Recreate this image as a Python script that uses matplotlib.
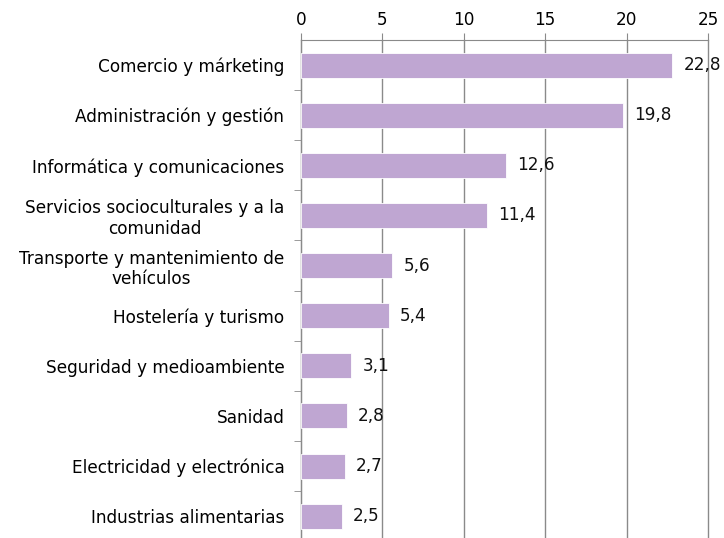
import matplotlib

matplotlib.use("Agg")
import matplotlib.pyplot as plt

plt.rcParams["font.family"] = ["DejaVu Sans"]

categorias = [
    "Comercio y márketing",
    "Administración y gestión",
    "Informática y comunicaciones",
    "Servicios socioculturales y a la\ncomunidad",
    "Transporte y mantenimiento de\nvehículos",
    "Hostelería y turismo",
    "Seguridad y medioambiente",
    "Sanidad",
    "Electricidad y electrónica",
    "Industrias alimentarias",
]
valores = [22.8, 19.8, 12.6, 11.4, 5.6, 5.4, 3.1, 2.8, 2.7, 2.5]
ticks_x = [0, 5, 10, 15, 20, 25]

BAR = "#bfa6d2"
GRID = "#8a8a8a"
FS = 12.2

fig = plt.figure(figsize=(7.24, 5.38), dpi=100)
ax = fig.add_axes([0.4157, -0.006, 0.978 - 0.4157, 0.9257 + 0.006])

pos = list(range(len(categorias)))
ax.barh(pos, valores, height=0.5, color=BAR, edgecolor="white", lw=0.6, zorder=3)
for y, v in zip(pos, valores):
    ax.annotate(f"{v:.1f}".replace(".", ","), (v, y), xytext=(8, 0),
                textcoords="offset points", ha="left", va="center",
                fontsize=FS, color="#111", zorder=4)

ax.set_xlim(0, 25)
ax.set_ylim(len(categorias) - 0.5, -0.5)
ax.set_xticks(ticks_x)
ax.xaxis.tick_top()
ax.tick_params(axis="x", length=5, color=GRID, labelsize=FS, pad=3)
ax.set_yticks(pos)
ax.set_yticklabels(categorias, fontsize=FS, ha="right", multialignment="center",
                   linespacing=1.15)
ax.tick_params(axis="y", length=0, pad=12)
ax.set_yticks([p + 0.5 for p in pos[:-1]], minor=True)
ax.tick_params(axis="y", which="minor", length=5, color=GRID)
ax.grid(axis="x", color=GRID, lw=1, zorder=0)
for gl in ax.get_xgridlines():
    gl.set_clip_on(False)
for s in ["right", "bottom"]:
    ax.spines[s].set_visible(False)
for s in ["top", "left"]:
    ax.spines[s].set_color(GRID)

fig.savefig("out.png", dpi=100)
